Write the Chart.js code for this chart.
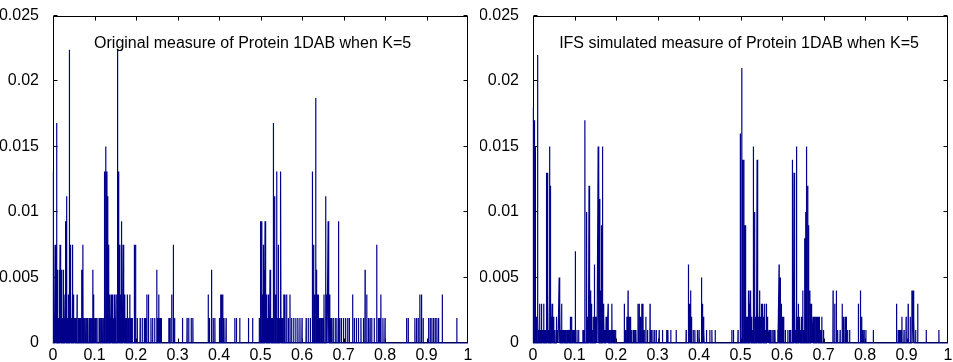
<!DOCTYPE html>
<html>
<head>
<meta charset="utf-8">
<script src="https://cdn.jsdelivr.net/npm/chart.js@4.4.0/dist/chart.umd.min.js"></script>
<style>
  body { margin: 0; background: #fff; }
  #wrap { position: relative; width: 953px; height: 362px; }
  canvas { position: absolute; top: 0; }
</style>
</head>
<body>
<div id="wrap">
  <canvas id="left" width="480" height="362" style="left:0px"></canvas>
  <canvas id="right" width="473" height="362" style="left:480px"></canvas>
</div>
<script>
// tick values / labels
var xTicks = [0, 0.1, 0.2, 0.3, 0.4, 0.5, 0.6, 0.7, 0.8, 0.9, 1];
var xLabels = ['0', '0.1', '0.2', '0.3', '0.4', '0.5', '0.6', '0.7', '0.8', '0.9', '1'];
var yTicks = [0, 0.005, 0.01, 0.015, 0.02, 0.025];
var yLabels = ['0', '0.005', '0.01', '0.015', '0.02', '0.025'];

var leftTitle = 'Original measure of Protein 1DAB when K=5';
var rightTitle = 'IFS simulated measure of Protein 1DAB when K=5';

// original measure: spike positions and heights
var origX = [0.001, 0.003, 0.005, 0.007, 0.009, 0.011, 0.013, 0.015, 0.017, 0.019, 0.021, 0.023, 0.025, 0.027, 0.029,
  0.031, 0.033, 0.035, 0.037, 0.039, 0.041, 0.043, 0.045, 0.047, 0.049, 0.051, 0.053, 0.055, 0.058, 0.061, 0.063, 0.066,
  0.069, 0.072, 0.074, 0.077, 0.080, 0.083, 0.087, 0.090, 0.093, 0.096, 0.098, 0.101, 0.104, 0.108, 0.112, 0.115, 0.118,
  0.121, 0.124, 0.127, 0.130, 0.132, 0.134, 0.136, 0.138, 0.140, 0.142, 0.144, 0.146, 0.148, 0.150, 0.152, 0.155, 0.157,
  0.159, 0.161, 0.163, 0.165, 0.167, 0.169, 0.171, 0.173, 0.176, 0.179, 0.182, 0.185, 0.188, 0.191, 0.196, 0.199, 0.203,
  0.210, 0.215, 0.220, 0.223, 0.226, 0.230, 0.236, 0.240, 0.245, 0.250, 0.253, 0.255, 0.258, 0.261, 0.279, 0.282, 0.286,
  0.290, 0.293, 0.312, 0.323, 0.327, 0.333, 0.337, 0.374, 0.377, 0.382, 0.386, 0.390, 0.401, 0.404, 0.406, 0.409, 0.412,
  0.417, 0.438, 0.442, 0.450, 0.471, 0.481, 0.497, 0.500, 0.503, 0.505, 0.507, 0.509, 0.511, 0.513, 0.515, 0.517, 0.519,
  0.521, 0.523, 0.525, 0.527, 0.529, 0.531, 0.534, 0.536, 0.539, 0.541, 0.543, 0.545, 0.547, 0.549, 0.551, 0.553, 0.556,
  0.559, 0.563, 0.567, 0.571, 0.575, 0.580, 0.585, 0.590, 0.595, 0.600, 0.610, 0.615, 0.620, 0.625, 0.628, 0.630, 0.633,
  0.635, 0.637, 0.639, 0.641, 0.644, 0.647, 0.650, 0.653, 0.657, 0.660, 0.663, 0.665, 0.667, 0.669, 0.671, 0.675, 0.680,
  0.684, 0.688, 0.691, 0.695, 0.700, 0.705, 0.710, 0.714, 0.722, 0.726, 0.731, 0.736, 0.742, 0.748, 0.752, 0.756, 0.760,
  0.764, 0.768, 0.774, 0.780, 0.784, 0.787, 0.790, 0.795, 0.800, 0.852, 0.856, 0.872, 0.876, 0.880, 0.884, 0.888, 0.892,
  0.905, 0.909, 0.913, 0.917, 0.921, 0.925, 0.929, 0.938, 0.973];
var origY = [0.0131, 0.0019, 0.0075, 0.0037, 0.0168, 0.0056, 0.0019, 0.0056, 0.0075, 0.0019, 0.0056, 0.0019, 0.0056, 0.0019, 0.0037,
  0.0093, 0.0112, 0.0019, 0.0037, 0.0224, 0.0075, 0.0037, 0.0019, 0.0075, 0.0037, 0.0019, 0.0019, 0.0019, 0.0037, 0.0019, 0.0019, 0.0019,
  0.0056, 0.0075, 0.0019, 0.0019, 0.0019, 0.0019, 0.0019, 0.0019, 0.0019, 0.0056, 0.0037, 0.0019, 0.0019, 0.0019, 0.0019, 0.0019, 0.0019,
  0.0019, 0.0131, 0.0150, 0.0131, 0.0112, 0.0075, 0.0037, 0.0019, 0.0037, 0.0019, 0.0037, 0.0019, 0.0037, 0.0019, 0.0037, 0.0224, 0.0131,
  0.0019, 0.0075, 0.0037, 0.0093, 0.0019, 0.0075, 0.0019, 0.0037, 0.0019, 0.0037, 0.0019, 0.0037, 0.0019, 0.0019, 0.0075, 0.0075, 0.0019,
  0.0019, 0.0019, 0.0019, 0.0019, 0.0037, 0.0037, 0.0019, 0.0019, 0.0019, 0.0056, 0.0019, 0.0037, 0.0019, 0.0019, 0.0019, 0.0019, 0.0037,
  0.0075, 0.0019, 0.0019, 0.0019, 0.0019, 0.0019, 0.0019, 0.0037, 0.0019, 0.0056, 0.0019, 0.0019, 0.0019, 0.0037, 0.0037, 0.0037, 0.0019,
  0.0019, 0.0019, 0.0019, 0.0019, 0.0019, 0.0019, 0.0019, 0.0093, 0.0093, 0.0037, 0.0075, 0.0056, 0.0093, 0.0019, 0.0037, 0.0019, 0.0037,
  0.0019, 0.0056, 0.0019, 0.0019, 0.0019, 0.0168, 0.0112, 0.0037, 0.0131, 0.0019, 0.0075, 0.0019, 0.0019, 0.0131, 0.0019, 0.0019, 0.0037,
  0.0037, 0.0037, 0.0019, 0.0037, 0.0019, 0.0019, 0.0019, 0.0019, 0.0019, 0.0019, 0.0019, 0.0019, 0.0019, 0.0131, 0.0075, 0.0037, 0.0187,
  0.0056, 0.0037, 0.0037, 0.0019, 0.0019, 0.0019, 0.0019, 0.0037, 0.0112, 0.0037, 0.0093, 0.0037, 0.0037, 0.0019, 0.0019, 0.0019, 0.0019,
  0.0019, 0.0093, 0.0019, 0.0019, 0.0019, 0.0019, 0.0019, 0.0019, 0.0037, 0.0019, 0.0019, 0.0019, 0.0019, 0.0019, 0.0056, 0.0037, 0.0019,
  0.0019, 0.0019, 0.0019, 0.0075, 0.0019, 0.0019, 0.0037, 0.0019, 0.0019, 0.0019, 0.0019, 0.0019, 0.0019, 0.0019, 0.0037, 0.0037, 0.0019,
  0.0019, 0.0019, 0.0019, 0.0019, 0.0019, 0.0019, 0.0019, 0.0037, 0.0019];

// IFS simulated measure
var ifsX = [0.001, 0.003, 0.005, 0.006, 0.008, 0.0105, 0.012, 0.014, 0.016, 0.018, 0.020, 0.022, 0.024, 0.026, 0.028, 0.030,
  0.032, 0.034, 0.036, 0.038, 0.040, 0.042, 0.044, 0.046, 0.048, 0.050, 0.053, 0.056, 0.058, 0.060, 0.063, 0.065, 0.067,
  0.069, 0.072, 0.075, 0.078, 0.081, 0.084, 0.087, 0.090, 0.093, 0.096, 0.099, 0.102, 0.106, 0.110, 0.120, 0.122, 0.125,
  0.129, 0.131, 0.133, 0.135, 0.137, 0.139, 0.141, 0.143, 0.145, 0.148, 0.150, 0.152, 0.154, 0.157, 0.159, 0.161, 0.163,
  0.165, 0.167, 0.169, 0.171, 0.173, 0.176, 0.178, 0.181, 0.184, 0.187, 0.190, 0.193, 0.196, 0.199, 0.220, 0.223, 0.226,
  0.229, 0.232, 0.235, 0.238, 0.242, 0.245, 0.248, 0.253, 0.256, 0.259, 0.262, 0.265, 0.268, 0.272, 0.276, 0.282, 0.285,
  0.289, 0.293, 0.297, 0.304, 0.312, 0.322, 0.325, 0.332, 0.345, 0.369, 0.374, 0.376, 0.378, 0.380, 0.382, 0.386, 0.390,
  0.396, 0.400, 0.406, 0.408, 0.410, 0.412, 0.418, 0.426, 0.431, 0.439, 0.479, 0.483, 0.494, 0.4995, 0.503, 0.505, 0.508,
  0.511, 0.513, 0.515, 0.517, 0.519, 0.521, 0.523, 0.525, 0.527, 0.529, 0.531, 0.534, 0.536, 0.538, 0.540, 0.542, 0.544,
  0.546, 0.548, 0.550, 0.552, 0.554, 0.556, 0.558, 0.560, 0.562, 0.564, 0.566, 0.569, 0.572, 0.576, 0.580, 0.583, 0.590,
  0.593, 0.596, 0.598, 0.600, 0.602, 0.604, 0.608, 0.614, 0.618, 0.621, 0.625, 0.627, 0.629, 0.631, 0.633, 0.635, 0.637,
  0.639, 0.641, 0.643, 0.645, 0.647, 0.650, 0.652, 0.6545, 0.657, 0.659, 0.662, 0.664, 0.667, 0.670, 0.672, 0.675, 0.678,
  0.681, 0.684, 0.687, 0.690, 0.693, 0.696, 0.700, 0.723, 0.727, 0.731, 0.734, 0.740, 0.745, 0.748, 0.752, 0.755, 0.758,
  0.763, 0.784, 0.789, 0.792, 0.795, 0.798, 0.802, 0.820, 0.876, 0.880, 0.883, 0.886, 0.889, 0.894, 0.899, 0.904, 0.909,
  0.913, 0.916, 0.918, 0.922, 0.927, 0.9475, 0.978];
var ifsY = [0.018, 0.017, 0.002, 0.015, 0.002, 0.022, 0.002, 0.001, 0.003, 0.001, 0.003, 0.001, 0.001, 0.003, 0.001, 0.001,
  0.013, 0.013, 0.004, 0.001, 0.015, 0.012, 0.002, 0.003, 0.001, 0.002, 0.001, 0.002, 0.001, 0.001, 0.005, 0.003, 0.001,
  0.003, 0.001, 0.001, 0.001, 0.001, 0.001, 0.001, 0.002, 0.002, 0.001, 0.001, 0.007, 0.001, 0.001, 0.001, 0.001, 0.017,
  0.010, 0.002, 0.001, 0.012, 0.004, 0.004, 0.003, 0.001, 0.002, 0.006, 0.002, 0.001, 0.002, 0.015, 0.013, 0.011, 0.004,
  0.009, 0.015, 0.003, 0.002, 0.001, 0.002, 0.001, 0.003, 0.001, 0.001, 0.003, 0.001, 0.001, 0.001, 0.003, 0.001, 0.002,
  0.004, 0.002, 0.002, 0.001, 0.001, 0.001, 0.001, 0.003, 0.003, 0.002, 0.003, 0.003, 0.001, 0.002, 0.001, 0.003, 0.001,
  0.001, 0.001, 0.001, 0.001, 0.001, 0.001, 0.001, 0.001, 0.001, 0.001, 0.006, 0.003, 0.002, 0.004, 0.002, 0.001, 0.001,
  0.001, 0.001, 0.005, 0.003, 0.002, 0.001, 0.001, 0.001, 0.001, 0.001, 0.001, 0.001, 0.001, 0.016, 0.021, 0.014, 0.014,
  0.009, 0.001, 0.002, 0.002, 0.004, 0.003, 0.004, 0.003, 0.002, 0.001, 0.015, 0.010, 0.002, 0.001, 0.014, 0.003, 0.002,
  0.004, 0.002, 0.003, 0.001, 0.003, 0.002, 0.003, 0.001, 0.003, 0.002, 0.001, 0.001, 0.001, 0.001, 0.001, 0.001, 0.001,
  0.006, 0.005, 0.003, 0.002, 0.001, 0.002, 0.001, 0.001, 0.001, 0.001, 0.014, 0.002, 0.013, 0.003, 0.001, 0.015, 0.002,
  0.003, 0.001, 0.002, 0.001, 0.002, 0.004, 0.001, 0.008, 0.010, 0.015, 0.012, 0.009, 0.004, 0.003, 0.001, 0.002, 0.002,
  0.002, 0.002, 0.002, 0.002, 0.001, 0.002, 0.001, 0.004, 0.003, 0.004, 0.001, 0.001, 0.003, 0.002, 0.002, 0.002, 0.001,
  0.001, 0.003, 0.004, 0.002, 0.001, 0.001, 0.001, 0.001, 0.003, 0.001, 0.001, 0.001, 0.002, 0.001, 0.002, 0.003, 0.002,
  0.004, 0.004, 0.002, 0.001, 0.003, 0.001, 0.001];

// turn spike lists into a line that drops back to zero between spikes
function spikes(xs, ys) {
  var pts = [{x: 0, y: 0}];
  for (var i = 0; i < xs.length; i++) {
    pts.push({x: xs[i] - 0.0004, y: 0});
    pts.push({x: xs[i], y: ys[i]});
    pts.push({x: xs[i] + 0.0004, y: 0});
  }
  pts.push({x: 1, y: 0});
  return pts;
}

var font = {family: '"Liberation Sans", Arial, sans-serif', size: 16};

// box with inward ticks on all four sides, MATLAB style
var boxPlugin = {
  id: 'box',
  beforeDatasetsDraw: function(chart) {
    var ctx = chart.ctx, a = chart.chartArea, sx = chart.scales.x, sy = chart.scales.y;
    var L = Math.round(a.left) + 0.5, R = Math.round(a.right) - 0.5;
    var T = Math.round(a.top) + 0.5, B = Math.round(a.bottom) - 0.5;
    ctx.save();
    ctx.strokeStyle = '#000';
    ctx.lineWidth = 1;
    ctx.strokeRect(L, T, R - L, B - T);
    ctx.beginPath();
    xTicks.forEach(function(v) {
      var px = Math.round(sx.getPixelForValue(v)) + 0.5;
      if (v === 1) px = R;
      ctx.moveTo(px, B); ctx.lineTo(px, B - 4);
      ctx.moveTo(px, T); ctx.lineTo(px, T + 4);
    });
    yTicks.forEach(function(v) {
      var py = Math.round(sy.getPixelForValue(v)) - 0.5;
      ctx.moveTo(L, py); ctx.lineTo(L + 4, py);
      ctx.moveTo(R, py); ctx.lineTo(R - 4, py);
    });
    ctx.stroke();
    ctx.restore();
  },
  afterDraw: function(chart, args, opts) {
    var ctx = chart.ctx;
    ctx.save();
    ctx.fillStyle = '#000';
    ctx.font = '16px "Liberation Sans", Arial, sans-serif';
    ctx.textBaseline = 'alphabetic';
    ctx.fillText(opts.text, chart.scales.x.getPixelForValue(opts.x), chart.scales.y.getPixelForValue(opts.y));
    ctx.restore();
  }
};

function makeChart(id, xs, ys, title, titleX, rightPad) {
  var ctx = document.getElementById(id).getContext('2d');
  return new Chart(ctx, {
    type: 'line',
    data: {
      datasets: [{
        data: spikes(xs, ys),
        borderColor: '#00008b',
        borderWidth: 1.2,
        pointRadius: 0,
        tension: 0,
        fill: false,
        clip: 2
      }]
    },
    options: {
      responsive: false,
      animation: false,
      devicePixelRatio: 1,
      layout: {padding: {top: 15, right: rightPad, left: 0, bottom: 0}},
      plugins: {
        legend: {display: false},
        tooltip: {enabled: false},
        box: {text: title, x: titleX, y: 0.02255}
      },
      scales: {
        x: {
          type: 'linear', min: 0, max: 1,
          afterBuildTicks: function(s) { s.ticks = xTicks.map(function(v) { return {value: v}; }); },
          afterFit: function(s) { s.height = 19; },
          grid: {display: false},
          border: {display: false},
          ticks: {color: '#000', font: font, padding: -5, maxRotation: 0,
            callback: function(v, i) { return xLabels[i]; }}
        },
        y: {
          min: 0, max: 0.025,
          afterBuildTicks: function(s) { s.ticks = yTicks.map(function(v) { return {value: v}; }); },
          afterFit: function(s) { s.width = 53; },
          grid: {display: false},
          border: {display: false},
          ticks: {color: '#000', font: font, padding: 6,
            callback: function(v, i) { return yLabels[i]; }}
        }
      }
    },
    plugins: [boxPlugin]
  });
}

makeChart('left', origX, origY, leftTitle, 0.099, 12);
makeChart('right', ifsX, ifsY, rightTitle, 0.063, 5);
</script>
</body>
</html>
